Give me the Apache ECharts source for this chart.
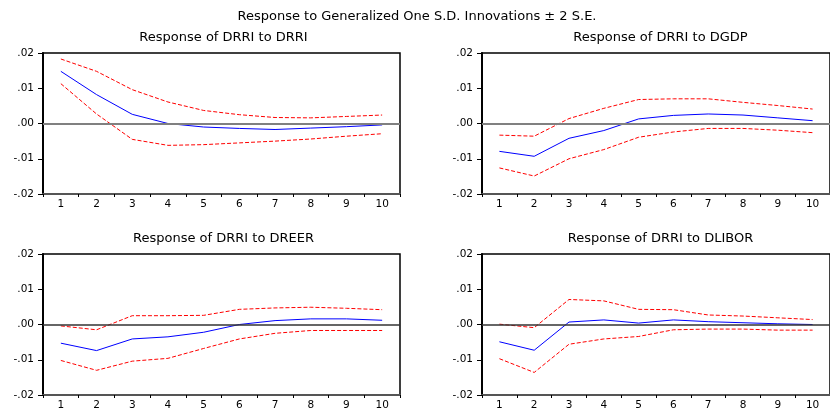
<!DOCTYPE html>
<html><head><meta charset="utf-8">
<script src="https://cdn.jsdelivr.net/npm/echarts@6/dist/echarts.min.js"></script>
<style>html,body{margin:0;padding:0;background:#fff}#c{width:830px;height:411px}</style>
</head><body><div id="c"></div>
<script>
const categories = ['1','2','3','4','5','6','7','8','9','10'];
const yTicks = [-0.02, -0.01, 0.00, 0.01, 0.02];
const yTickLabels = ['-.02', '-.01', '.00', '.01', '.02'];
const mainTitle = 'Response to Generalized One S.D. Innovations \u00b1 2 S.E.';
const panelTitles = ['Response of DRRI to DRRI', 'Response of DRRI to DGDP', 'Response of DRRI to DREER', 'Response of DRRI to DLIBOR'];

const drriResp  = [0.0148, 0.0082, 0.0026, 0.0000, -0.0010, -0.0014, -0.0017, -0.0013, -0.0009, -0.0004];
const drriUpper = [0.0183, 0.0148, 0.0096, 0.0061, 0.0037, 0.0025, 0.0017, 0.0016, 0.0020, 0.0024];
const drriLower = [0.0113, 0.0027, -0.0045, -0.0062, -0.0060, -0.0055, -0.0050, -0.0044, -0.0036, -0.0029];

const dgdpResp  = [-0.0079, -0.0093, -0.0042, -0.0020, 0.0013, 0.0023, 0.0027, 0.0024, 0.0016, 0.0008];
const dgdpUpper = [-0.0033, -0.0036, 0.0014, 0.0043, 0.0068, 0.0070, 0.0070, 0.0060, 0.0051, 0.0041];
const dgdpLower = [-0.0126, -0.0149, -0.0100, -0.0074, -0.0039, -0.0024, -0.0014, -0.0014, -0.0019, -0.0026];

const dreerResp  = [-0.0053, -0.0074, -0.0041, -0.0035, -0.0022, 0.0000, 0.0011, 0.0016, 0.0016, 0.0012];
const dreerUpper = [-0.0004, -0.0015, 0.0025, 0.0025, 0.0026, 0.0043, 0.0047, 0.0049, 0.0046, 0.0042];
const dreerLower = [-0.0102, -0.0130, -0.0104, -0.0096, -0.0068, -0.0041, -0.0025, -0.0017, -0.0017, -0.0017];

const dliborResp  = [-0.0049, -0.0073, 0.0007, 0.0013, 0.0004, 0.0013, 0.0008, 0.0005, 0.0002, 0.0000];
const dliborUpper = [0.0001, -0.0009, 0.0071, 0.0067, 0.0043, 0.0042, 0.0027, 0.0024, 0.0019, 0.0014];
const dliborLower = [-0.0097, -0.0136, -0.0056, -0.0041, -0.0034, -0.0015, -0.0013, -0.0013, -0.0016, -0.0016];

const panels = [
  {resp: drriResp, up: drriUpper, lo: drriLower},
  {resp: dgdpResp, up: dgdpUpper, lo: dgdpLower},
  {resp: dreerResp, up: dreerUpper, lo: dreerLower},
  {resp: dliborResp, up: dliborUpper, lo: dliborLower}
];

const FONT = 'DejaVu Sans';
const gridPos = [
  {left: 43, top: 53, width: 357, height: 141},
  {left: 482, top: 53, width: 357, height: 141},
  {left: 43, top: 254, width: 357, height: 141},
  {left: 482, top: 254, width: 357, height: 141}
];
const zeroStyles = [
  {color: '#808080', width: 2},
  {color: '#808080', width: 2},
  {color: '#333333', width: 1.5},
  {color: '#333333', width: 1.5}
];

const grids = [], xAxes = [], yAxes = [], series = [], titles = [];
titles.push({text: mainTitle, left: 412, top: 5, textAlign: 'center',
  textStyle: {fontFamily: FONT, fontSize: 13, fontWeight: 'normal', color: '#000'}});
gridPos.forEach((g, i) => {
  grids.push(Object.assign({show: true, borderColor: '#000', borderWidth: 1.5, backgroundColor: 'transparent'}, g));
  titles.push({text: panelTitles[i], left: g.left + 357 / 2 - (i % 2 === 1 ? 5 : 3), top: g.top - 27, textAlign: 'center',
    textStyle: {fontFamily: FONT, fontSize: 13, fontWeight: 'normal', color: '#000'}});
  xAxes.push({type: 'category', gridIndex: i, data: categories, boundaryGap: true, position: 'bottom',
    axisLine: {show: true, onZero: false, lineStyle: {color: '#555', width: 2}},
    axisTick: {show: true, inside: false, length: 3, lineStyle: {color: '#000', width: 1}},
    axisLabel: {fontFamily: FONT, fontSize: 10.5, color: '#000', margin: 5},
    splitLine: {show: false}});
  yAxes.push({type: 'value', gridIndex: i, min: yTicks[0], max: yTicks[yTicks.length - 1], interval: 0.01,
    axisLine: {show: true, onZero: false, lineStyle: {color: '#000', width: 2}},
    axisTick: {show: true, length: 5, lineStyle: {color: '#000', width: 1}},
    axisLabel: {fontFamily: FONT, fontSize: 10.5, color: '#000', margin: 9,
      formatter: v => { const k = yTicks.findIndex(t => Math.abs(t - v) < 1e-9); return k >= 0 ? yTickLabels[k] : ''; }},
    splitLine: {show: false}});
  const p = panels[i];
  series.push({type: 'line', xAxisIndex: i, yAxisIndex: i, data: p.up, symbol: 'none', silent: true,
    lineStyle: {color: '#ff0000', width: 1, type: [4, 2]}, z: 3});
  series.push({type: 'line', xAxisIndex: i, yAxisIndex: i, data: p.lo, symbol: 'none', silent: true,
    lineStyle: {color: '#ff0000', width: 1, type: [4, 2]}, z: 3});
  series.push({type: 'line', xAxisIndex: i, yAxisIndex: i, data: p.resp, symbol: 'none', silent: true,
    lineStyle: {color: '#0000ff', width: 1}, z: 4,
    markLine: {silent: true, symbol: 'none', label: {show: false}, animation: false,
      lineStyle: {color: zeroStyles[i].color, width: zeroStyles[i].width, type: 'solid'},
      data: [{yAxis: 0}]}});
});

const chart = echarts.init(document.getElementById('c'), null, {renderer: 'canvas'});
chart.setOption({animation: false, backgroundColor: '#fff', title: titles, grid: grids,
  xAxis: xAxes, yAxis: yAxes, series: series});
</script></body></html>
